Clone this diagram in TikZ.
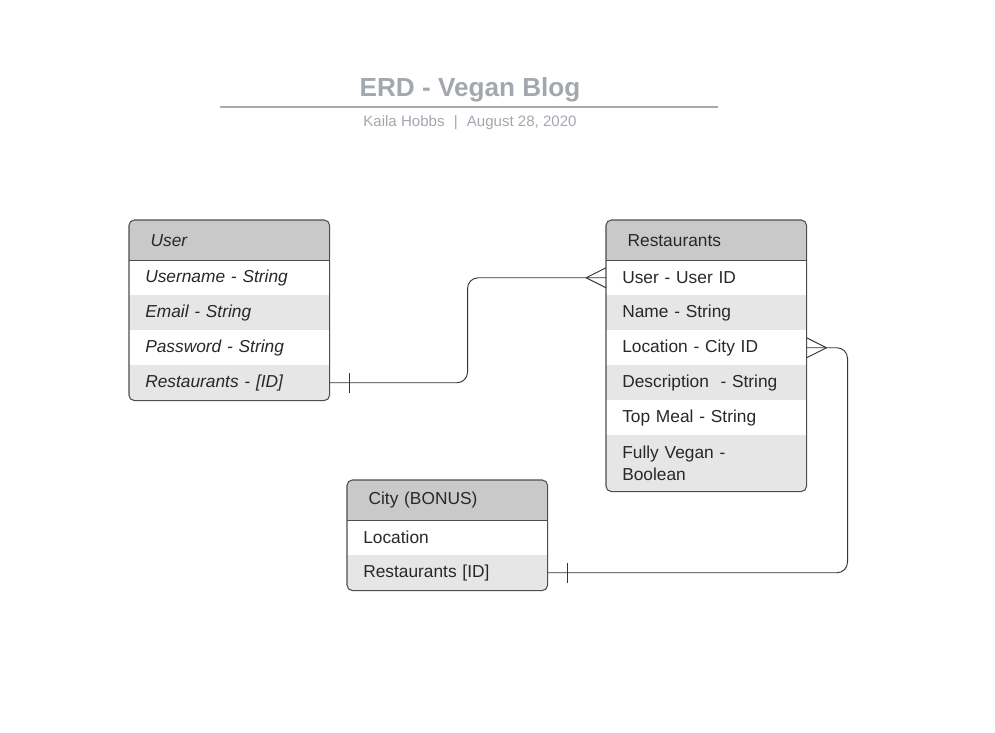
\documentclass[tikz,border=0pt]{standalone}
\usepackage{fontspec}
\setmainfont{Liberation Sans}
\usetikzlibrary{calc, positioning}

\definecolor{titlegray}{HTML}{A3A7AE}
\definecolor{rulegray}{HTML}{AAAAAA}
\definecolor{headgray}{HTML}{C9C9C9}
\definecolor{rowgray}{HTML}{E6E6E6}
\definecolor{edgegray}{HTML}{4D4D4D}
\definecolor{inkgray}{HTML}{282828}

% Pata de gallo (lado "muchos") en el borde de una fila
% Argumentos: {Nodo}{Ancla}{Direccion: -1 izquierda, 1 derecha}
\newcommand{\crowFoot}[3]{
    \draw[link] ($(#1.#2)+(#3*20,0)$) -- ([yshift=7.5pt]#1.#2);
    \draw[link] ($(#1.#2)+(#3*20,0)$) -- ([yshift=-7.5pt]#1.#2);
}
% Marca simple (lado "uno")
\newcommand{\oneTick}[3]{
    \draw[link] ($(#1.#2)+(#3*20,10)$) -- ($(#1.#2)+(#3*20,-10)$);
}

\begin{document}
\begin{tikzpicture}[
    x=0.75pt, y=-0.75pt,
    head/.style={anchor=north west, minimum width=150pt, minimum height=30pt,
        fill=headgray, inner xsep=16pt, text width=118pt, align=left,
        text=inkgray, font=\fontsize{13}{16}\selectfont},
    row/.style={anchor=north west, minimum width=150pt, minimum height=26.25pt,
        inner xsep=12pt, text width=126pt, align=left, text=inkgray,
        font=\fontsize{13}{16.5}\selectfont},
    tablebox/.style={draw=edgegray, line width=0.8pt, rounded corners=4pt},
    link/.style={draw=black!80, line width=0.7pt},
    title/.style={font=\fontsize{19.6}{22}\selectfont\bfseries, text=titlegray},
    subtitle/.style={font=\fontsize{11.3}{13}\selectfont, text=titlegray}
]
\useasboundingbox (0,0) rectangle (995,732);

% 1. Titulo
\node[title] (title) at (470,90) {ERD - Vegan Blog};
\coordinate (ruleL) at (220,107);
\coordinate (ruleR) at (718,107);
\draw[rulegray, line width=1.4pt] (ruleL) -- (ruleR);
\node[subtitle] (sub) at (470,123) {Kaila Hobbs \,\,|\,\, August 28, 2020};

% 2. Tabla User
\begin{scope}
    \clip[rounded corners=4pt] (129,220) rectangle (329,400);
    \node[head, font=\fontsize{13}{16}\selectfont\itshape] (uh) at (129,220) {User};
    \foreach \i/\txt/\shade in {1/Username - String/white, 2/Email - String/rowgray,
        3/Password - String/white, 4/Restaurants - [ID]/rowgray}{
        \node[row, fill=\shade, font=\fontsize{13}{16.5}\selectfont\itshape]
            (u\i) at ({129},{260+35*(\i-1)}) {\txt};
    }
\end{scope}
\draw[tablebox] (uh.north west) rectangle (u4.south east);
\draw[edgegray, line width=0.8pt] (uh.south west) -- (uh.south east);

% 3. Tabla Restaurants
\begin{scope}
    \clip[rounded corners=4pt] (606,220) rectangle (806,491);
    \node[head] (rh) at (606,220) {Restaurants};
    \foreach \i/\txt/\shade in {1/User - User ID/white, 2/Name - String/rowgray,
        3/Location - City ID/white, 4/Description\ \ - String/rowgray,
        5/Top Meal - String/white}{
        \node[row, fill=\shade] (r\i) at ({606},{260+35*(\i-1)}) {\txt};
    }
    \node[row, fill=rowgray, minimum height=42pt] (r6) at (606,435)
        {Fully Vegan -\\Boolean};
\end{scope}
\draw[tablebox] (rh.north west) rectangle (r6.south east);
\draw[edgegray, line width=0.8pt] (rh.south west) -- (rh.south east);

% 4. Tabla City (BONUS)
\begin{scope}
    \clip[rounded corners=4pt] (347,480) rectangle (547,590);
    \node[head] (ch) at (347,480) {City (BONUS)};
    \node[row, fill=white] (c1) at (347,520) {Location};
    \node[row, fill=rowgray] (c2) at (347,555) {Restaurants [ID]};
\end{scope}
\draw[tablebox] (ch.north west) rectangle (c2.south east);
\draw[edgegray, line width=0.8pt] (ch.south west) -- (ch.south east);

% 5. Relaciones
\draw[link, rounded corners=8pt] (u4.east) -- ++(138,0) |- (r1.west);
\oneTick{u4}{east}{1}
\crowFoot{r1}{west}{-1}

\draw[link, rounded corners=8pt] (r3.east) -- ++(41,0) |- (c2.east);
\crowFoot{r3}{east}{1}
\oneTick{c2}{east}{1}

\end{tikzpicture}
\end{document}
